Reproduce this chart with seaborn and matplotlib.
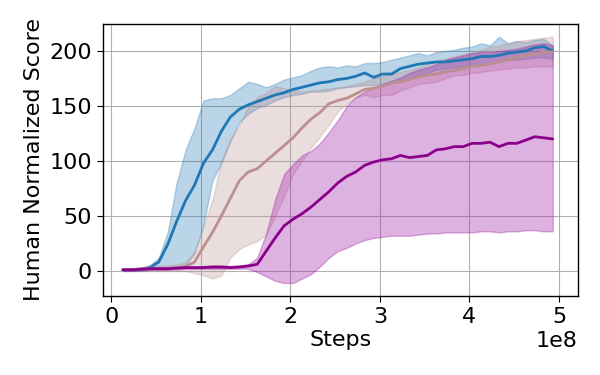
import numpy as np
import pandas as pd
import matplotlib
matplotlib.use("Agg")
import matplotlib.pyplot as plt
import seaborn as sns

# steps in units of 1e8
steps_e8 = [0.13, 0.23, 0.33, 0.43, 0.53, 0.63, 0.73, 0.83, 0.93, 1.03,
            1.13, 1.23, 1.33, 1.43, 1.53, 1.63, 1.73, 1.83, 1.93, 2.03,
            2.13, 2.23, 2.33, 2.43, 2.53, 2.63, 2.73, 2.83, 2.93, 3.03,
            3.13, 3.23, 3.33, 3.43, 3.53, 3.63, 3.73, 3.83, 3.93, 4.03,
            4.13, 4.23, 4.33, 4.43, 4.53, 4.63, 4.73, 4.83, 4.93]

blue_mean = [1, 1, 1.5, 3, 8, 24, 45, 64, 78, 98,
             110, 127, 140, 147, 151, 154, 157, 160, 162, 165,
             167, 169, 171, 172, 174, 175, 177, 180, 176, 179,
             179, 184, 186, 188, 189, 190, 190, 191, 192, 193,
             195, 195, 196, 198, 199, 200, 203, 204, 200]
blue_hi = [2, 2, 3, 5, 12, 35, 80, 110, 130, 155,
           157, 157, 160, 166, 172, 170, 167, 170, 174, 176,
           178, 182, 185, 186, 185, 187, 186, 189, 189, 190,
           192, 194, 196, 198, 196, 199, 200, 201, 203, 204,
           207, 205, 213, 207, 209, 208, 210, 211, 205]
blue_lo = [0, 0, 0, 1, 2, 3, 3, 5, 16, 42,
           82, 98, 118, 135, 143, 148, 151, 155, 158, 160,
           161, 163, 163, 164, 166, 167, 168, 169, 169, 170,
           171, 172, 175, 178, 180, 183, 184, 185, 186, 187,
           188, 189, 190, 192, 192, 193, 194, 194, 193]

rosy_mean = [1, 1, 2, 2, 2, 2, 3, 4, 8, 22,
             35, 50, 66, 82, 90, 93, 100, 107, 114, 121,
             130, 138, 144, 152, 155, 157, 161, 165, 166, 168,
             171, 172, 174, 176, 178, 179, 181, 182, 184, 186,
             187, 188, 190, 192, 194, 196, 197, 199, 199]
rosy_hi = [2, 2, 3, 4, 5, 5, 6, 8, 18, 40,
           65, 100, 120, 132, 150, 158, 162, 168, 166, 165,
           163, 164, 165, 166, 167, 168, 170, 172, 175, 177,
           179, 181, 183, 185, 188, 191, 193, 195, 197, 199,
           201, 204, 205, 207, 209, 210, 211, 212, 213]
rosy_lo = [0, 0, 0, 0, 0, 0, 0, 0, -2, -4,
           -7, -4, 12, 20, 24, 27, 33, 50, 68, 88,
           100, 112, 122, 133, 145, 152, 158, 160, 158, 160,
           160, 164, 167, 170, 171, 172, 175, 178, 178, 180,
           181, 182, 183, 184, 185, 185, 186, 186, 186]

purple_mean = [1, 1, 1.5, 2, 2, 2, 2.5, 3, 3, 3,
               3.5, 3.5, 3, 3.5, 4.5, 6, 18, 30, 41, 47,
               52, 58, 65, 72, 80, 86, 90, 96, 99, 101,
               102, 105, 103, 104, 105, 110, 111, 113, 113, 116,
               116, 117, 113, 116, 116, 119, 122, 121, 120]
purple_hi = [2, 2, 2.5, 3, 3, 3.5, 4, 4, 4, 4.5,
             5, 5, 4.5, 5, 6, 12, 34, 65, 88, 97,
             105, 109, 116, 126, 137, 150, 158, 163, 167, 170,
             173, 176, 180, 183, 185, 188, 192, 194, 196, 198,
             199, 199, 200, 201, 202, 204, 206, 207, 205]
purple_lo = [0, 0, 0.5, 1, 1, 1, 1.5, 2, 2, 2,
             2, 2, 2, 2, 2, -1, -5, -9, -11, -11,
             -7, -3, 4, 12, 18, 21, 25, 28, 30, 31,
             32, 32, 32, 33, 34, 34, 35, 35, 35, 35,
             36, 36, 35, 36, 36, 37, 37, 36, 36]

series_names = ["blue", "rosy", "purple"]
line_colors = ["#1f77b4", "#bc8f8f", "#8b008b"]
fill_colors = ["#1f77b4", "#bc8f8f", "#a020a8"]
fill_alphas = [0.3, 0.3, 0.35]

sns.set_style("ticks")
plt.rcParams["font.family"] = ["DejaVu Sans"]
plt.rcParams["text.color"] = "black"
plt.rcParams["axes.labelcolor"] = "black"
plt.rcParams["xtick.color"] = "black"
plt.rcParams["ytick.color"] = "black"

fig = plt.figure(figsize=(6, 3.75), dpi=100)
ax = fig.add_axes([0.172, 0.211, 0.791, 0.725])

steps = np.array(steps_e8) * 1e8
means = [blue_mean, rosy_mean, purple_mean]
his = [blue_hi, rosy_hi, purple_hi]
los = [blue_lo, rosy_lo, purple_lo]

for name, m, hi, lo, lc, fc, fa in zip(series_names, means, his, los,
                                       line_colors, fill_colors, fill_alphas):
    ax.fill_between(steps, lo, hi, color=fc, alpha=fa, linewidth=1)
    df = pd.DataFrame({"Steps": steps, "Score": m})
    sns.lineplot(data=df, x="Steps", y="Score", ax=ax, color=lc, linewidth=2)

ax.grid(True, color="#b0b0b0", linewidth=0.8)
for s in ax.spines.values():
    s.set_color("black")
    s.set_linewidth(1.0)
ax.set_xlim(-0.09e8, 5.21e8)
ax.set_ylim(-22.7, 224.5)
ax.set_xticks([0, 1e8, 2e8, 3e8, 4e8, 5e8])
ax.set_yticks([0, 50, 100, 150, 200])
ax.tick_params(labelsize=16, colors="black", direction="out", length=4.5)
ax.xaxis.get_offset_text().set_fontsize(16)
ax.xaxis.get_offset_text().set_color("black")
ax.set_xlabel("Steps", fontsize=16, labelpad=2, color="black")
ax.set_ylabel("Human Normalized Score", fontsize=16, color="black")

fig.savefig("out.png", dpi=100)
